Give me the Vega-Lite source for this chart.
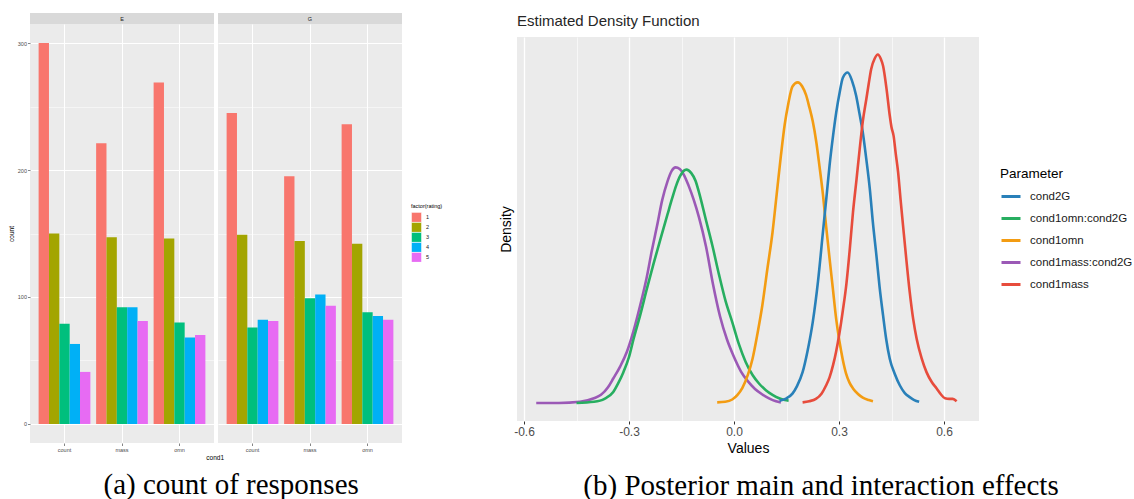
{
  "$schema": "https://vega.github.io/schema/vega-lite/v6.json",
  "background": "white",
  "padding": {"left": 8, "top": 13, "right": 0, "bottom": 0},
  "config": {"font": "Liberation Sans", "view": {"stroke": null}},
  "datasets": {
    "bars": [
      {"cond2": "E", "cond1": "count", "rating": "1", "n": 300},
      {"cond2": "E", "cond1": "count", "rating": "2", "n": 150},
      {"cond2": "E", "cond1": "count", "rating": "3", "n": 79},
      {"cond2": "E", "cond1": "count", "rating": "4", "n": 63},
      {"cond2": "E", "cond1": "count", "rating": "5", "n": 41},
      {"cond2": "E", "cond1": "mass", "rating": "1", "n": 221},
      {"cond2": "E", "cond1": "mass", "rating": "2", "n": 147},
      {"cond2": "E", "cond1": "mass", "rating": "3", "n": 92},
      {"cond2": "E", "cond1": "mass", "rating": "4", "n": 92},
      {"cond2": "E", "cond1": "mass", "rating": "5", "n": 81},
      {"cond2": "E", "cond1": "omn", "rating": "1", "n": 269},
      {"cond2": "E", "cond1": "omn", "rating": "2", "n": 146},
      {"cond2": "E", "cond1": "omn", "rating": "3", "n": 80},
      {"cond2": "E", "cond1": "omn", "rating": "4", "n": 68},
      {"cond2": "E", "cond1": "omn", "rating": "5", "n": 70},
      {"cond2": "G", "cond1": "count", "rating": "1", "n": 245},
      {"cond2": "G", "cond1": "count", "rating": "2", "n": 149},
      {"cond2": "G", "cond1": "count", "rating": "3", "n": 76},
      {"cond2": "G", "cond1": "count", "rating": "4", "n": 82},
      {"cond2": "G", "cond1": "count", "rating": "5", "n": 81},
      {"cond2": "G", "cond1": "mass", "rating": "1", "n": 195},
      {"cond2": "G", "cond1": "mass", "rating": "2", "n": 144},
      {"cond2": "G", "cond1": "mass", "rating": "3", "n": 99},
      {"cond2": "G", "cond1": "mass", "rating": "4", "n": 102},
      {"cond2": "G", "cond1": "mass", "rating": "5", "n": 93},
      {"cond2": "G", "cond1": "omn", "rating": "1", "n": 236},
      {"cond2": "G", "cond1": "omn", "rating": "2", "n": 142},
      {"cond2": "G", "cond1": "omn", "rating": "3", "n": 88},
      {"cond2": "G", "cond1": "omn", "rating": "4", "n": 85},
      {"cond2": "G", "cond1": "omn", "rating": "5", "n": 82}
    ],
    "dens": [
      {"Parameter": "cond1mass:cond2G", "value": -0.565, "density": 0.01},
      {"Parameter": "cond1mass:cond2G", "value": -0.5, "density": 0.01},
      {"Parameter": "cond1mass:cond2G", "value": -0.44, "density": 0.03},
      {"Parameter": "cond1mass:cond2G", "value": -0.4, "density": 0.09},
      {"Parameter": "cond1mass:cond2G", "value": -0.38, "density": 0.15},
      {"Parameter": "cond1mass:cond2G", "value": -0.36, "density": 0.28},
      {"Parameter": "cond1mass:cond2G", "value": -0.345, "density": 0.43},
      {"Parameter": "cond1mass:cond2G", "value": -0.325, "density": 0.64},
      {"Parameter": "cond1mass:cond2G", "value": -0.306, "density": 0.89},
      {"Parameter": "cond1mass:cond2G", "value": -0.287, "density": 1.25},
      {"Parameter": "cond1mass:cond2G", "value": -0.268, "density": 1.69},
      {"Parameter": "cond1mass:cond2G", "value": -0.25, "density": 2.15},
      {"Parameter": "cond1mass:cond2G", "value": -0.235, "density": 2.62},
      {"Parameter": "cond1mass:cond2G", "value": -0.22, "density": 3.05},
      {"Parameter": "cond1mass:cond2G", "value": -0.205, "density": 3.5},
      {"Parameter": "cond1mass:cond2G", "value": -0.19, "density": 3.82},
      {"Parameter": "cond1mass:cond2G", "value": -0.178, "density": 4.0},
      {"Parameter": "cond1mass:cond2G", "value": -0.167, "density": 4.06},
      {"Parameter": "cond1mass:cond2G", "value": -0.155, "density": 4.03},
      {"Parameter": "cond1mass:cond2G", "value": -0.144, "density": 3.94},
      {"Parameter": "cond1mass:cond2G", "value": -0.13, "density": 3.75},
      {"Parameter": "cond1mass:cond2G", "value": -0.115, "density": 3.5},
      {"Parameter": "cond1mass:cond2G", "value": -0.1, "density": 3.2},
      {"Parameter": "cond1mass:cond2G", "value": -0.08, "density": 2.7},
      {"Parameter": "cond1mass:cond2G", "value": -0.06, "density": 2.05},
      {"Parameter": "cond1mass:cond2G", "value": -0.04, "density": 1.5},
      {"Parameter": "cond1mass:cond2G", "value": -0.02, "density": 1.1},
      {"Parameter": "cond1mass:cond2G", "value": 0.0, "density": 0.8},
      {"Parameter": "cond1mass:cond2G", "value": 0.02, "density": 0.55},
      {"Parameter": "cond1mass:cond2G", "value": 0.04, "density": 0.38},
      {"Parameter": "cond1mass:cond2G", "value": 0.06, "density": 0.25},
      {"Parameter": "cond1mass:cond2G", "value": 0.08, "density": 0.16},
      {"Parameter": "cond1mass:cond2G", "value": 0.1, "density": 0.09},
      {"Parameter": "cond1mass:cond2G", "value": 0.12, "density": 0.04},
      {"Parameter": "cond1mass:cond2G", "value": 0.134, "density": 0.02},
      {"Parameter": "cond1omn:cond2G", "value": -0.45, "density": 0.01},
      {"Parameter": "cond1omn:cond2G", "value": -0.4, "density": 0.03},
      {"Parameter": "cond1omn:cond2G", "value": -0.37, "density": 0.08},
      {"Parameter": "cond1omn:cond2G", "value": -0.345, "density": 0.2},
      {"Parameter": "cond1omn:cond2G", "value": -0.33, "density": 0.36},
      {"Parameter": "cond1omn:cond2G", "value": -0.316, "density": 0.54},
      {"Parameter": "cond1omn:cond2G", "value": -0.3, "density": 0.8},
      {"Parameter": "cond1omn:cond2G", "value": -0.287, "density": 1.11},
      {"Parameter": "cond1omn:cond2G", "value": -0.268, "density": 1.52},
      {"Parameter": "cond1omn:cond2G", "value": -0.249, "density": 1.97},
      {"Parameter": "cond1omn:cond2G", "value": -0.23, "density": 2.4},
      {"Parameter": "cond1omn:cond2G", "value": -0.21, "density": 2.83},
      {"Parameter": "cond1omn:cond2G", "value": -0.19, "density": 3.25},
      {"Parameter": "cond1omn:cond2G", "value": -0.177, "density": 3.52},
      {"Parameter": "cond1omn:cond2G", "value": -0.165, "density": 3.75},
      {"Parameter": "cond1omn:cond2G", "value": -0.153, "density": 3.92},
      {"Parameter": "cond1omn:cond2G", "value": -0.136, "density": 4.02},
      {"Parameter": "cond1omn:cond2G", "value": -0.122, "density": 3.96},
      {"Parameter": "cond1omn:cond2G", "value": -0.11, "density": 3.83},
      {"Parameter": "cond1omn:cond2G", "value": -0.1, "density": 3.63},
      {"Parameter": "cond1omn:cond2G", "value": -0.08, "density": 3.15},
      {"Parameter": "cond1omn:cond2G", "value": -0.062, "density": 2.72},
      {"Parameter": "cond1omn:cond2G", "value": -0.043, "density": 2.22},
      {"Parameter": "cond1omn:cond2G", "value": -0.024, "density": 1.76},
      {"Parameter": "cond1omn:cond2G", "value": -0.005, "density": 1.4},
      {"Parameter": "cond1omn:cond2G", "value": 0.014, "density": 1.02},
      {"Parameter": "cond1omn:cond2G", "value": 0.033, "density": 0.72},
      {"Parameter": "cond1omn:cond2G", "value": 0.053, "density": 0.49},
      {"Parameter": "cond1omn:cond2G", "value": 0.072, "density": 0.34},
      {"Parameter": "cond1omn:cond2G", "value": 0.091, "density": 0.23},
      {"Parameter": "cond1omn:cond2G", "value": 0.11, "density": 0.15},
      {"Parameter": "cond1omn:cond2G", "value": 0.129, "density": 0.09},
      {"Parameter": "cond1omn:cond2G", "value": 0.145, "density": 0.06},
      {"Parameter": "cond1omn:cond2G", "value": 0.156, "density": 0.05},
      {"Parameter": "cond1omn", "value": -0.048, "density": 0.02},
      {"Parameter": "cond1omn", "value": -0.025, "density": 0.03},
      {"Parameter": "cond1omn", "value": -0.005, "density": 0.07},
      {"Parameter": "cond1omn", "value": 0.01, "density": 0.15},
      {"Parameter": "cond1omn", "value": 0.024, "density": 0.27},
      {"Parameter": "cond1omn", "value": 0.04, "density": 0.5},
      {"Parameter": "cond1omn", "value": 0.053, "density": 0.77},
      {"Parameter": "cond1omn", "value": 0.067, "density": 1.2},
      {"Parameter": "cond1omn", "value": 0.081, "density": 1.69},
      {"Parameter": "cond1omn", "value": 0.095, "density": 2.3},
      {"Parameter": "cond1omn", "value": 0.11, "density": 2.94},
      {"Parameter": "cond1omn", "value": 0.122, "density": 3.6},
      {"Parameter": "cond1omn", "value": 0.134, "density": 4.26},
      {"Parameter": "cond1omn", "value": 0.145, "density": 4.8},
      {"Parameter": "cond1omn", "value": 0.155, "density": 5.15},
      {"Parameter": "cond1omn", "value": 0.167, "density": 5.45},
      {"Parameter": "cond1omn", "value": 0.182, "density": 5.52},
      {"Parameter": "cond1omn", "value": 0.195, "density": 5.45},
      {"Parameter": "cond1omn", "value": 0.206, "density": 5.3},
      {"Parameter": "cond1omn", "value": 0.215, "density": 5.1},
      {"Parameter": "cond1omn", "value": 0.225, "density": 4.85},
      {"Parameter": "cond1omn", "value": 0.235, "density": 4.5},
      {"Parameter": "cond1omn", "value": 0.244, "density": 4.09},
      {"Parameter": "cond1omn", "value": 0.254, "density": 3.6},
      {"Parameter": "cond1omn", "value": 0.263, "density": 3.06},
      {"Parameter": "cond1omn", "value": 0.272, "density": 2.55},
      {"Parameter": "cond1omn", "value": 0.282, "density": 2.0},
      {"Parameter": "cond1omn", "value": 0.292, "density": 1.45},
      {"Parameter": "cond1omn", "value": 0.301, "density": 1.08},
      {"Parameter": "cond1omn", "value": 0.311, "density": 0.75},
      {"Parameter": "cond1omn", "value": 0.32, "density": 0.52},
      {"Parameter": "cond1omn", "value": 0.33, "density": 0.36},
      {"Parameter": "cond1omn", "value": 0.34, "density": 0.26},
      {"Parameter": "cond1omn", "value": 0.355, "density": 0.16},
      {"Parameter": "cond1omn", "value": 0.368, "density": 0.1},
      {"Parameter": "cond1omn", "value": 0.385, "density": 0.06},
      {"Parameter": "cond1omn", "value": 0.397, "density": 0.04},
      {"Parameter": "cond2G", "value": 0.13, "density": 0.05},
      {"Parameter": "cond2G", "value": 0.15, "density": 0.09},
      {"Parameter": "cond2G", "value": 0.167, "density": 0.17},
      {"Parameter": "cond2G", "value": 0.18, "density": 0.3},
      {"Parameter": "cond2G", "value": 0.196, "density": 0.54},
      {"Parameter": "cond2G", "value": 0.21, "density": 0.9},
      {"Parameter": "cond2G", "value": 0.225, "density": 1.4},
      {"Parameter": "cond2G", "value": 0.24, "density": 2.1},
      {"Parameter": "cond2G", "value": 0.254, "density": 2.94},
      {"Parameter": "cond2G", "value": 0.265, "density": 3.6},
      {"Parameter": "cond2G", "value": 0.273, "density": 4.09},
      {"Parameter": "cond2G", "value": 0.283, "density": 4.6},
      {"Parameter": "cond2G", "value": 0.292, "density": 5.0},
      {"Parameter": "cond2G", "value": 0.302, "density": 5.35},
      {"Parameter": "cond2G", "value": 0.311, "density": 5.6},
      {"Parameter": "cond2G", "value": 0.325, "density": 5.69},
      {"Parameter": "cond2G", "value": 0.337, "density": 5.55},
      {"Parameter": "cond2G", "value": 0.349, "density": 5.29},
      {"Parameter": "cond2G", "value": 0.358, "density": 5.0},
      {"Parameter": "cond2G", "value": 0.368, "density": 4.66},
      {"Parameter": "cond2G", "value": 0.378, "density": 4.2},
      {"Parameter": "cond2G", "value": 0.388, "density": 3.69},
      {"Parameter": "cond2G", "value": 0.397, "density": 3.1},
      {"Parameter": "cond2G", "value": 0.407, "density": 2.54},
      {"Parameter": "cond2G", "value": 0.416, "density": 2.0},
      {"Parameter": "cond2G", "value": 0.426, "density": 1.51},
      {"Parameter": "cond2G", "value": 0.435, "density": 1.1},
      {"Parameter": "cond2G", "value": 0.445, "density": 0.77},
      {"Parameter": "cond2G", "value": 0.46, "density": 0.5},
      {"Parameter": "cond2G", "value": 0.474, "density": 0.31},
      {"Parameter": "cond2G", "value": 0.488, "density": 0.18},
      {"Parameter": "cond2G", "value": 0.502, "density": 0.11},
      {"Parameter": "cond2G", "value": 0.515, "density": 0.06},
      {"Parameter": "cond2G", "value": 0.529, "density": 0.03},
      {"Parameter": "cond1mass", "value": 0.196, "density": 0.02},
      {"Parameter": "cond1mass", "value": 0.215, "density": 0.04},
      {"Parameter": "cond1mass", "value": 0.234, "density": 0.08},
      {"Parameter": "cond1mass", "value": 0.25, "density": 0.17},
      {"Parameter": "cond1mass", "value": 0.263, "density": 0.31},
      {"Parameter": "cond1mass", "value": 0.273, "density": 0.45},
      {"Parameter": "cond1mass", "value": 0.283, "density": 0.66},
      {"Parameter": "cond1mass", "value": 0.292, "density": 0.9},
      {"Parameter": "cond1mass", "value": 0.301, "density": 1.2},
      {"Parameter": "cond1mass", "value": 0.311, "density": 1.6},
      {"Parameter": "cond1mass", "value": 0.321, "density": 2.05},
      {"Parameter": "cond1mass", "value": 0.33, "density": 2.6},
      {"Parameter": "cond1mass", "value": 0.34, "density": 3.29},
      {"Parameter": "cond1mass", "value": 0.35, "density": 3.85},
      {"Parameter": "cond1mass", "value": 0.359, "density": 4.37},
      {"Parameter": "cond1mass", "value": 0.368, "density": 4.85},
      {"Parameter": "cond1mass", "value": 0.378, "density": 5.23},
      {"Parameter": "cond1mass", "value": 0.385, "density": 5.5},
      {"Parameter": "cond1mass", "value": 0.392, "density": 5.75},
      {"Parameter": "cond1mass", "value": 0.402, "density": 5.93},
      {"Parameter": "cond1mass", "value": 0.411, "density": 6.0},
      {"Parameter": "cond1mass", "value": 0.419, "density": 5.93},
      {"Parameter": "cond1mass", "value": 0.426, "density": 5.8},
      {"Parameter": "cond1mass", "value": 0.436, "density": 5.4},
      {"Parameter": "cond1mass", "value": 0.445, "density": 4.95},
      {"Parameter": "cond1mass", "value": 0.45, "density": 4.75},
      {"Parameter": "cond1mass", "value": 0.456, "density": 4.6},
      {"Parameter": "cond1mass", "value": 0.462, "density": 4.3},
      {"Parameter": "cond1mass", "value": 0.469, "density": 3.97},
      {"Parameter": "cond1mass", "value": 0.476, "density": 3.5},
      {"Parameter": "cond1mass", "value": 0.483, "density": 3.06},
      {"Parameter": "cond1mass", "value": 0.492, "density": 2.5},
      {"Parameter": "cond1mass", "value": 0.502, "density": 1.92},
      {"Parameter": "cond1mass", "value": 0.512, "density": 1.45},
      {"Parameter": "cond1mass", "value": 0.522, "density": 1.11},
      {"Parameter": "cond1mass", "value": 0.536, "density": 0.78},
      {"Parameter": "cond1mass", "value": 0.55, "density": 0.54},
      {"Parameter": "cond1mass", "value": 0.565, "density": 0.37},
      {"Parameter": "cond1mass", "value": 0.579, "density": 0.26},
      {"Parameter": "cond1mass", "value": 0.591, "density": 0.16},
      {"Parameter": "cond1mass", "value": 0.603, "density": 0.09},
      {"Parameter": "cond1mass", "value": 0.615, "density": 0.08},
      {"Parameter": "cond1mass", "value": 0.625, "density": 0.08},
      {"Parameter": "cond1mass", "value": 0.636, "density": 0.04}
    ]
  },
  "spacing": 97,
  "hconcat": [
    {
      "title": {"text": "(a) count of responses", "orient": "bottom", "anchor": "middle", "font": "Liberation Serif", "fontSize": 29, "fontWeight": "normal", "color": "#000000", "offset": 9, "dx": 26},
      "vconcat": [
        {
          "title": {"text": "cond1", "orient": "bottom", "anchor": "middle", "fontSize": 6.5, "fontWeight": "normal", "color": "#000000", "offset": 2, "dx": 10},
          "spacing": 4,
          "hconcat": [
            {
              "spacing": 0,
              "vconcat": [
                {
                  "width": 184, "height": 11,
                  "data": {"values": [{"panel": "E"}]},
                  "view": {"fill": "#D9D9D9", "stroke": null},
                  "mark": {"type": "text", "fontSize": 5.5, "color": "#1A1A1A"},
                  "encoding": {"text": {"field": "panel", "type": "nominal"}}
                },
                {
                  "width": 184, "height": 419,
                  "data": {"name": "bars"},
                  "transform": [{"filter": "datum.cond2 === 'E'"}],
                  "view": {"fill": "#EBEBEB", "stroke": null},
                  "mark": {"type": "bar"},
                  "encoding": {
                    "x": {"field": "cond1", "type": "nominal", "scale": {"paddingInner": 0.1, "paddingOuter": 0.15},
                          "axis": {"title": null,
                                   "labelAngle": 0, "labelFontSize": 5.5, "labelColor": "#4D4D4D", "labelPadding": 2, "tickSize": 2.5, "tickColor": "#333333", "tickWidth": 0.6,
                                   "domain": false, "grid": true, "gridColor": "#FFFFFF", "gridWidth": 1, "bandPosition": 0.5}},
                    "xOffset": {"field": "rating", "type": "nominal", "scale": {"paddingInner": 0, "paddingOuter": 0}},
                    "y": {"field": "n", "type": "quantitative", "scale": {"domain": [-15, 315], "nice": false, "zero": false},
                          "axis": {"title": "count", "titleFontSize": 6.5, "titleFontWeight": "normal", "titleColor": "#000000", "titlePadding": 3,
                                   "values": [0, 50, 100, 150, 200, 250, 300],
                                   "labelExpr": "datum.value % 100 === 0 ? datum.label : ''",
                                   "labelFontSize": 5.5, "labelColor": "#4D4D4D", "labelPadding": 1,
                                   "tickSize": 2.5, "tickColor": "#333333", "tickWidth": 0.6,
                                   "tickOpacity": {"condition": {"test": "datum.value % 100 === 0", "value": 1}, "value": 0},
                                   "domain": false, "grid": true, "gridColor": "#FFFFFF",
                                   "gridWidth": {"condition": {"test": "datum.value % 100 === 0", "value": 1}, "value": 0.5}}},
                    "y2": {"datum": 0},
                    "fill": {"field": "rating", "type": "nominal", "title": "factor(rating)",
                             "scale": {"domain": ["1", "2", "3", "4", "5"], "range": ["#F8766D", "#A3A500", "#00BF7D", "#00B0F6", "#E76BF3"]},
                             "legend": {"orient": "none", "legendX": 381, "legendY": 191, "titleFontSize": 5.5, "titleFontWeight": "normal", "titleColor": "#000000", "titlePadding": 3,
                                        "labelFontSize": 5.5, "labelColor": "#1A1A1A", "labelOffset": 4, "symbolType": "square", "symbolSize": 100, "clipHeight": 9.6, "symbolStrokeColor": "#FFFFFF", "symbolStrokeWidth": 0.5, "rowPadding": 0}}
                  }
                }
              ]
            },
            {
              "spacing": 0,
              "vconcat": [
                {
                  "width": 184, "height": 11,
                  "data": {"values": [{"panel": "G"}]},
                  "view": {"fill": "#D9D9D9", "stroke": null},
                  "mark": {"type": "text", "fontSize": 5.5, "color": "#1A1A1A"},
                  "encoding": {"text": {"field": "panel", "type": "nominal"}}
                },
                {
                  "width": 184, "height": 419,
                  "data": {"name": "bars"},
                  "transform": [{"filter": "datum.cond2 === 'G'"}],
                  "view": {"fill": "#EBEBEB", "stroke": null},
                  "mark": {"type": "bar"},
                  "encoding": {
                    "x": {"field": "cond1", "type": "nominal", "scale": {"paddingInner": 0.1, "paddingOuter": 0.15},
                          "axis": {"title": null, "labelAngle": 0, "labelFontSize": 5.5, "labelColor": "#4D4D4D", "labelPadding": 2, "tickSize": 2.5, "tickColor": "#333333", "tickWidth": 0.6,
                                   "domain": false, "grid": true, "gridColor": "#FFFFFF", "gridWidth": 1, "bandPosition": 0.5}},
                    "xOffset": {"field": "rating", "type": "nominal", "scale": {"paddingInner": 0, "paddingOuter": 0}},
                    "y": {"field": "n", "type": "quantitative", "scale": {"domain": [-15, 315], "nice": false, "zero": false},
                          "axis": {"title": null, "values": [0, 50, 100, 150, 200, 250, 300], "labels": false, "ticks": false, "domain": false,
                                   "grid": true, "gridColor": "#FFFFFF",
                                   "gridWidth": {"condition": {"test": "datum.value % 100 === 0", "value": 1}, "value": 0.5}}},
                    "y2": {"datum": 0},
                    "fill": {"field": "rating", "type": "nominal", "title": "factor(rating)",
                             "scale": {"domain": ["1", "2", "3", "4", "5"], "range": ["#F8766D", "#A3A500", "#00BF7D", "#00B0F6", "#E76BF3"]}}
                  }
                }
              ]
            }
          ]
        }
      ]
    },
    {
      "title": {"text": "(b) Posterior main and interaction effects", "orient": "bottom", "anchor": "middle", "font": "Liberation Serif", "fontSize": 29, "fontWeight": "normal", "color": "#000000", "offset": 17, "dx": 82},
      "spacing": 8,
      "vconcat": [
        {
          "width": 462, "height": 1,
          "data": {"values": []},
          "title": {"text": "Estimated Density Function", "orient": "bottom", "anchor": "start", "frame": "group", "fontSize": 15, "fontWeight": "normal", "color": "#262626", "offset": 0},
          "mark": {"type": "text"},
          "encoding": {}
        },
        {
          "width": 462, "height": 384,
          "data": {"name": "dens"},
          "view": {"fill": "#EBEBEB", "stroke": null},
          "mark": {"type": "line", "interpolate": "monotone", "strokeWidth": 2.6},
          "encoding": {
            "x": {"field": "value", "type": "quantitative", "scale": {"domain": [-0.62, 0.7], "nice": false, "zero": false},
                  "axis": {"title": "Values", "titleFontSize": 14, "titleFontWeight": "normal", "titleColor": "#000000", "titlePadding": 4,
                           "values": [-0.6, -0.45, -0.3, -0.15, 0, 0.15, 0.3, 0.45, 0.6],
                           "labelExpr": "round(datum.value*100) % 30 === 0 ? replace(format(datum.value, '.1f'), '\u2212', '-') : ''",
                           "labelFontSize": 12, "labelColor": "#4D4D4D", "labelPadding": 2,
                           "tickSize": 3, "tickColor": "#333333", "tickWidth": 1,
                           "tickOpacity": {"condition": {"test": "round(datum.value*100) % 30 === 0", "value": 1}, "value": 0},
                           "domain": false, "grid": true, "gridColor": "#FFFFFF",
                           "gridWidth": {"condition": {"test": "round(datum.value*100) % 30 === 0", "value": 1.3}, "value": 0.6}}},
            "y": {"field": "density", "type": "quantitative", "scale": {"domain": [-0.3, 6.3], "nice": false, "zero": false},
                  "axis": {"title": "Density", "titleFontSize": 14, "titleFontWeight": "normal", "titleColor": "#000000", "titlePadding": 4, "labels": false, "ticks": false, "domain": false, "grid": false}},
            "stroke": {"field": "Parameter", "type": "nominal",
                       "scale": {"domain": ["cond2G", "cond1omn:cond2G", "cond1omn", "cond1mass:cond2G", "cond1mass"], "range": ["#2980B9", "#27AE60", "#F39C12", "#9B59B6", "#E74C3C"]},
                       "legend": {"orient": "none", "legendX": 970, "legendY": 154, "title": "Parameter", "titleFontSize": 13.5, "titleFontWeight": "normal", "titleColor": "#000000", "titlePadding": 5,
                                  "labelFontSize": 11.5, "labelColor": "#1A1A1A", "labelOffset": 8, "symbolType": "stroke", "symbolStrokeWidth": 3, "symbolSize": 361, "rowPadding": 5}}
          }
        }
      ]
    }
  ]
}
